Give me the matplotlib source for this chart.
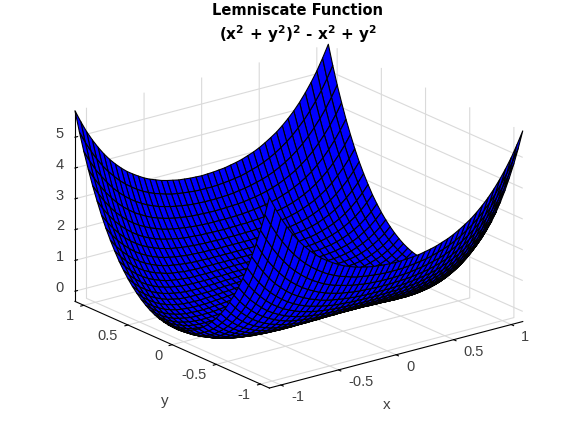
import numpy as np
import matplotlib
matplotlib.use("Agg")
import matplotlib.pyplot as plt
from mpl_toolkits.mplot3d import proj3d

# Grid positions for one quadrant (the surface is mirrored in x and y)
grid_pos = [0, .05, .10, .15, .20, .25, .30, .35, .40, .45, .50, .55, .60, .65,
            .70, .75, .80, .85, .90, .95, 1.0, 1.05, 1.10]

# Surface heights for x >= 0 (columns) and y >= 0 (rows)
z_quadrant = [
 [0,0,-.01,-.02,-.04,-.06,-.08,-.11,-.13,-.16,-.19,-.21,-.23,-.24,-.25,-.25,-.23,-.20,-.15,-.09,0,.11,.25],
 [0,0,-.01,-.02,-.04,-.06,-.08,-.10,-.13,-.16,-.18,-.21,-.23,-.24,-.24,-.24,-.22,-.19,-.15,-.08,.01,.12,.26],
 [.01,.01,0,-.01,-.03,-.05,-.07,-.09,-.12,-.15,-.17,-.19,-.21,-.23,-.23,-.22,-.21,-.18,-.13,-.06,.03,.15,.29],
 [.02,.02,.01,0,-.01,-.03,-.05,-.08,-.10,-.13,-.15,-.17,-.19,-.20,-.20,-.20,-.18,-.15,-.09,-.02,.07,.19,.33],
 [.04,.04,.03,.02,.01,-.01,-.03,-.06,-.08,-.10,-.13,-.15,-.16,-.17,-.17,-.16,-.14,-.10,-.05,.03,.12,.24,.39],
 [.07,.06,.06,.05,.03,.02,0,-.03,-.05,-.07,-.09,-.11,-.12,-.12,-.12,-.11,-.08,-.04,.01,.09,.19,.32,.47],
 [.10,.10,.09,.08,.07,.05,.03,.01,-.01,-.03,-.04,-.06,-.07,-.07,-.06,-.05,-.02,.03,.09,.17,.28,.41,.57],
 [.14,.14,.13,.12,.11,.09,.08,.06,.04,.03,.01,0,0,0,.01,.03,.06,.11,.18,.27,.38,.52,.69],
 [.19,.18,.18,.17,.16,.15,.13,.12,.10,.09,.08,.07,.07,.08,.09,.12,.16,.22,.29,.39,.51,.65,.83],
 [.24,.24,.24,.23,.22,.21,.20,.19,.17,.16,.16,.16,.16,.17,.19,.23,.27,.34,.42,.52,.65,.80,.99],
 [.31,.31,.31,.30,.29,.29,.28,.27,.26,.25,.25,.25,.26,.28,.31,.35,.40,.47,.56,.68,.81,.98,1.17],
 [.39,.39,.39,.39,.38,.37,.37,.36,.36,.36,.36,.37,.38,.41,.44,.49,.55,.63,.73,.85,1.00,1.17,1.38],
 [.49,.49,.49,.48,.48,.48,.47,.47,.47,.47,.48,.50,.52,.55,.59,.65,.72,.81,.92,1.05,1.21,1.40,1.61],
 [.60,.60,.60,.60,.60,.60,.60,.60,.60,.61,.62,.65,.67,.71,.77,.83,.91,1.01,1.13,1.28,1.45,1.65,1.88],
 [.73,.73,.73,.73,.73,.73,.74,.74,.75,.77,.79,.82,.85,.90,.96,1.04,1.13,1.24,1.37,1.53,1.71,1.92,2.17],
 [.88,.88,.88,.88,.89,.89,.90,.91,.92,.95,.97,1.01,1.05,1.11,1.18,1.27,1.37,1.49,1.64,1.81,2.00,2.23,2.49],
 [1.05,1.05,1.05,1.06,1.06,1.07,1.08,1.10,1.12,1.15,1.18,1.23,1.28,1.35,1.43,1.52,1.64,1.77,1.93,2.12,2.33,2.57,2.85],
 [1.24,1.25,1.25,1.26,1.26,1.28,1.29,1.31,1.34,1.38,1.42,1.47,1.53,1.61,1.70,1.81,1.94,2.09,2.26,2.46,2.69,2.95,3.25],
 [1.47,1.47,1.47,1.48,1.49,1.51,1.53,1.56,1.59,1.63,1.68,1.75,1.82,1.91,2.01,2.13,2.27,2.44,2.62,2.84,3.09,3.37,3.68],
 [1.72,1.72,1.73,1.74,1.75,1.77,1.80,1.83,1.87,1.92,1.98,2.05,2.14,2.24,2.35,2.49,2.64,2.82,3.03,3.26,3.52,3.82,4.16],
 [2.00,2.00,2.01,2.02,2.04,2.07,2.10,2.14,2.19,2.24,2.31,2.39,2.49,2.60,2.73,2.88,3.05,3.24,3.47,3.72,4.00,4.32,4.67],
 [2.32,2.32,2.33,2.35,2.37,2.40,2.43,2.48,2.54,2.60,2.68,2.77,2.88,3.01,3.15,3.31,3.50,3.71,3.95,4.22,4.52,4.86,5.24],
 [2.67,2.68,2.69,2.71,2.73,2.77,2.81,2.86,2.93,3.00,3.09,3.20,3.32,3.45,3.61,3.79,3.99,4.22,4.48,4.77,5.09,5.46,5.86],
]

xy_ticks = [-1, -0.5, 0, 0.5, 1]
xy_tick_labels = ['-1', '-0.5', '0', '0.5', '1']
z_ticks = [0, 1, 2, 3, 4, 5]
title_lines = ['Lemniscate Function',
               r'$\mathbf{(x^2}$ + $\mathbf{y^2)^2}$ - $\mathbf{x^2}$ + $\mathbf{y^2}$']

plt.rcParams['font.family'] = ['Liberation Sans', 'DejaVu Sans']
plt.rcParams['mathtext.fontset'] = 'dejavusans'
TEXT = '#404040'
XMIN, XMAX, ZMIN, ZMAX = -1.1, 1.1, -0.33, 5.86

q = np.array(z_quadrant)
pos = np.array(grid_pos)
axis = np.r_[-pos[:0:-1], pos]
Z = np.vstack([q[:0:-1], q])
Z = np.hstack([Z[:, :0:-1], Z])
X, Y = np.meshgrid(axis, axis)

fig = plt.figure(figsize=(5.77, 4.33), dpi=100)
ax = fig.add_axes([4.5 / 577, -5.5 / 433, 1, 1], projection='3d', proj_type='ortho')
ax.view_init(elev=20, azim=-127.5)
ax.set_box_aspect((318, 318, 202), zoom=1.11)

surf = ax.plot_surface(X, Y, Z, rstride=1, cstride=1, color=(0, 0, 1), edgecolor='black',
                       linewidth=0.8, shade=False, antialiased=True)
surf.set_clip_on(False)

ax.set_xlim(XMIN, XMAX)
ax.set_ylim(XMIN, XMAX)
ax.set_zlim(ZMIN, ZMAX)
ax.set_xticks(xy_ticks)
ax.set_yticks(xy_ticks)
ax.set_zticks(z_ticks)

for a in (ax.xaxis, ax.yaxis, ax.zaxis):
    a.set_pane_color((1, 1, 1, 0))
    a.pane.set_edgecolor((1, 1, 1, 0))
    a.line.set_color('black')
    a.line.set_linewidth(0.8)
    a._axinfo['grid'].update(color='#dadada', linewidth=0.8)
    a._axinfo['tick'].update(inward_factor=0.15, outward_factor=0.0)
    a.set_tick_params(label1On=False, label2On=False)
ax.zaxis._axinfo['tick'].update(inward_factor=0.0, outward_factor=0.12)


def label_at(x, y, z, s, **kw):
    """Place a 2D text where a 3D point projects to, so its extent is known."""
    px, py, _ = proj3d.proj_transform(x, y, z, ax.get_proj())
    return fig.text(px, py, s, transform=ax.transData, color=TEXT, va='center', **kw)


for t, s in zip(xy_ticks, xy_tick_labels):
    label_at(t, XMIN - 0.114, ZMIN - 0.25, s, ha='left', fontsize=10.5)
    label_at(XMIN - 0.087, t, ZMIN - 0.275, s, ha='right', fontsize=10.5)
for t in z_ticks:
    label_at(XMIN - 0.096, XMAX, t + 0.2, str(t), ha='right', fontsize=10.5)
label_at(-0.086, XMIN, -1.88, 'x', ha='center', fontsize=11)
label_at(XMIN, 0.08, -2.26, 'y', ha='center', fontsize=11)

fig.text(0.516, 0.975, title_lines[0], ha='center', va='center', fontsize=10.5,
         fontweight='bold', family='DejaVu Sans', color='black')
fig.text(0.516, 0.92, title_lines[1], ha='center', va='center', fontsize=11,
         fontweight='bold', family='DejaVu Sans', color='black')

fig.savefig('out.png', dpi=100)
